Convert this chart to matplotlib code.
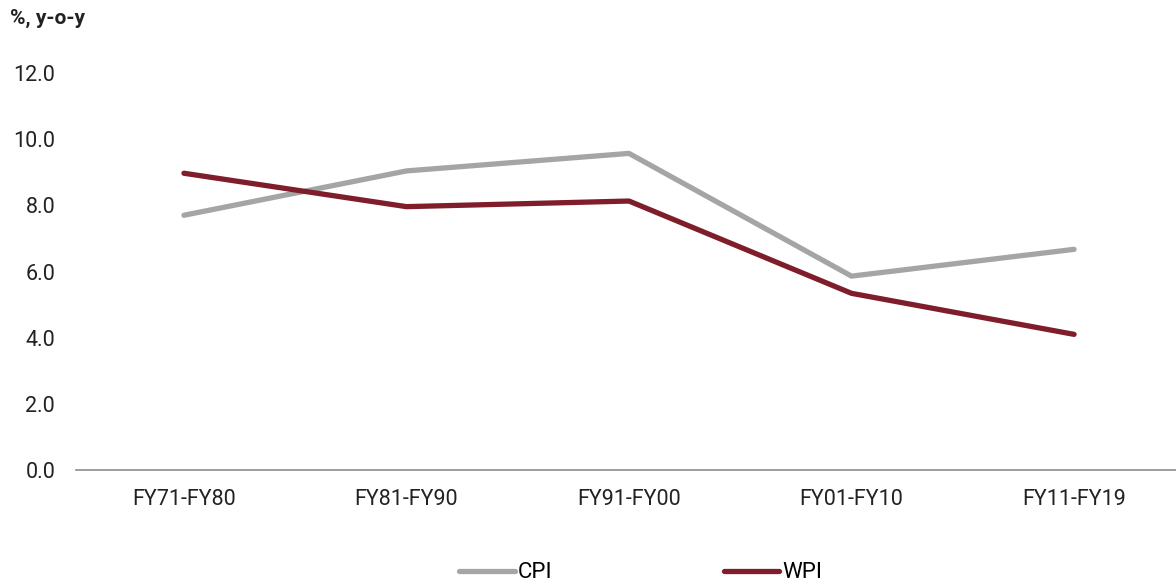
import matplotlib.pyplot as plt

plt.rcParams["font.family"] = ["Roboto", "DejaVu Sans"]

# Data
periods = ["FY71-FY80", "FY81-FY90", "FY91-FY00", "FY01-FY10", "FY11-FY19"]
cpi = [7.7, 9.04, 9.57, 5.86, 6.67]
wpi = [8.97, 7.96, 8.13, 5.34, 4.1]

fig = plt.figure(figsize=(11.76, 5.84), dpi=100)
ax = fig.add_axes([76 / 1176, 114 / 584, 1100 / 1176, 397 / 584])

x = range(len(periods))
ax.plot(x, cpi, color="#A5A5A5", lw=3.8, solid_capstyle="round", label="CPI")
ax.plot(x, wpi, color="#7F1D2B", lw=3.8, solid_capstyle="round", label="WPI")

ax.set_xlim(-0.485, 4.458)
ax.set_ylim(0, 12)
ax.set_yticks([0, 2, 4, 6, 8, 10, 12])
ax.set_yticklabels([f"{v:.1f}" for v in [0, 2, 4, 6, 8, 10, 12]])
ax.set_xticks(list(x))
ax.set_xticklabels(periods)
ax.tick_params(axis="both", length=0, labelsize=15.5, colors="#222222")
ax.tick_params(axis="y", pad=15)
ax.tick_params(axis="x", pad=14)

for s in ["top", "right", "left"]:
    ax.spines[s].set_visible(False)
ax.spines["bottom"].set_color("#8C8C8C")
ax.spines["bottom"].set_linewidth(1.2)

fig.text(10 / 1176, 1 - 18 / 584, "%, y-o-y", fontsize=15, fontweight="bold",
         va="center", ha="left", color="#222222")

fig.legend(loc="center", bbox_to_anchor=(0.545, 1 - 573 / 584), ncol=2, frameon=False,
           fontsize=16, handlelength=2.5, handletextpad=0.15, columnspacing=7.7)

plt.savefig("out.png", dpi=100)
